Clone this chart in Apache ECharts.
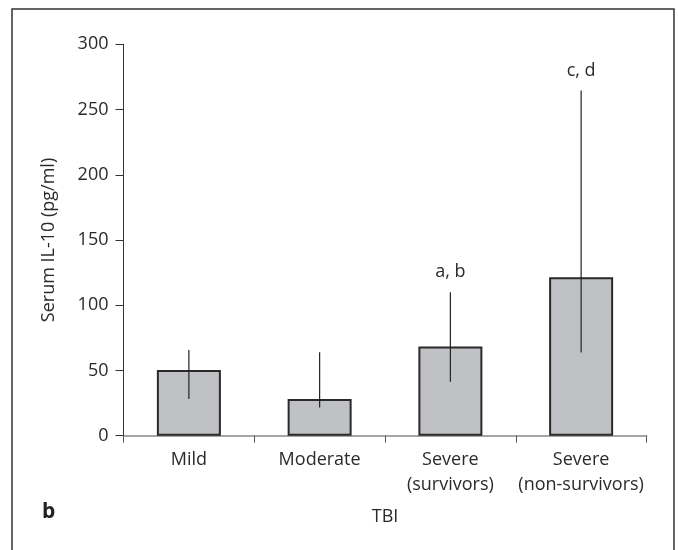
<!DOCTYPE html>
<html>
<head>
<meta charset="utf-8">
<script src="https://cdn.jsdelivr.net/npm/echarts@6/dist/echarts.min.js"></script>
<style>html,body{margin:0;padding:0;background:#fff;}#c{width:678px;height:550px;}</style>
</head>
<body>
<div id="c"></div>
<script>
const categories = ['Mild', 'Moderate', 'Severe\n(survivors)', 'Severe\n(non-survivors)'];
const medians = [50.4, 28.1, 68.3, 121.5];
const errLow = [28.1, 21.6, 41.4, 63.7];
const errHigh = [65.7, 64.0, 110.0, 264.6];
const annotations = ['', '', 'a, b', 'c, d'];
const yTicks = { min: 0, max: 300, interval: 50 };

const FONT = 'Open Sans';
const TXT = '#2a2a2a';
const FS = 18;

const chart = echarts.init(document.getElementById('c'), null, { renderer: 'canvas' });
chart.setOption({
  animation: false,
  backgroundColor: '#fff',
  textStyle: { fontFamily: FONT, color: TXT },
  grid: { left: 123.5, top: 44.3, width: 523, height: 391.4, containLabel: false },
  xAxis: {
    type: 'category',
    data: categories,
    boundaryGap: true,
    name: 'TBI',
    nameLocation: 'middle',
    nameGap: 72,
    nameTextStyle: { fontFamily: FONT, fontSize: FS, color: TXT },
    axisLine: { lineStyle: { color: '#888', width: 1.5 } },
    axisTick: { show: true, length: 7, lineStyle: { color: '#555', width: 1 } },
    axisLabel: { fontFamily: FONT, fontSize: FS, color: TXT, lineHeight: 25, margin: 12, interval: 0 }
  },
  yAxis: {
    type: 'value',
    min: yTicks.min, max: yTicks.max, interval: yTicks.interval,
    name: 'Serum IL-10 (pg/ml)',
    nameLocation: 'middle',
    nameGap: 66,
    nameTextStyle: { fontFamily: FONT, fontSize: FS, color: TXT },
    splitLine: { show: false },
    axisLine: { show: true, lineStyle: { color: '#333', width: 1 } },
    axisTick: { show: true, length: 8, lineStyle: { color: '#333', width: 1 } },
    axisLabel: { fontFamily: FONT, fontSize: FS, color: TXT, margin: 15 }
  },
  series: [
    {
      type: 'bar',
      data: medians,
      barWidth: 64,
      itemStyle: { color: '#c0c1c4', borderColor: '#2a2a2a', borderWidth: 2 },
      z: 2
    },
    {
      type: 'custom',
      data: categories.map((c, i) => [i, errLow[i], errHigh[i], medians[i]]),
      renderItem: function (params, api) {
        const i = api.value(0);
        const lo = api.coord([i, api.value(1)]);
        const hi = api.coord([i, api.value(2)]);
        const children = [{
          type: 'line',
          shape: { x1: lo[0], y1: lo[1], x2: hi[0], y2: hi[1] },
          style: { stroke: '#222', lineWidth: 1.2 }
        }];
        const t = annotations[i];
        if (t) {
          children.push({
            type: 'text',
            style: {
              text: t, x: hi[0], y: hi[1] - 20,
              align: 'center', verticalAlign: 'middle',
              font: FS + 'px "Open Sans"', fill: TXT
            }
          });
        }
        return { type: 'group', children: children };
      },
      z: 3
    }
  ],
  graphic: [
    {
      type: 'rect',
      shape: { x: 12, y: 9, width: 662, height: 620 },
      style: { fill: 'none', stroke: '#333', lineWidth: 1.5 },
      silent: true
    },
    {
      type: 'text',
      left: 42, top: 502,
      style: { text: 'b', font: 'bold 21px "Open Sans"', fill: '#222' }
    }
  ]
});
</script>
</body>
</html>
